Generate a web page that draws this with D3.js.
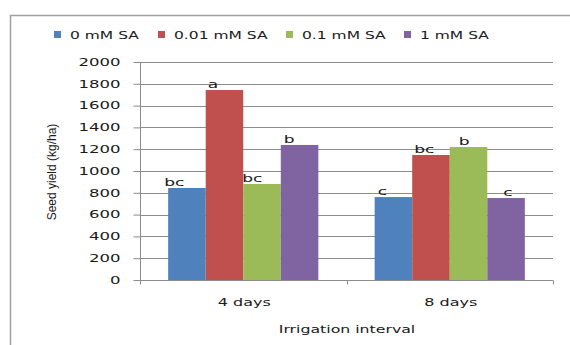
<!DOCTYPE html>
<html><head><meta charset="utf-8">
<script src="https://cdn.jsdelivr.net/npm/d3@7"></script>
<style>
html,body{margin:0;padding:0;background:#fff;}
svg{display:block;}
</style></head>
<body>
<svg id="chart" width="570" height="345"></svg>
<script>
const categories = ["4 days", "8 days"];
const seriesNames = ["0 mM SA", "0.01 mM SA", "0.1 mM SA", "1 mM SA"];
const values0 = [844, 761];
const values001 = [1743, 1147];
const values01 = [881, 1220];
const values1 = [1239, 752];
const letters0 = ["bc", "c"];
const letters001 = ["a", "bc"];
const letters01 = ["bc", "b"];
const letters1 = ["b", "c"];
const yTicks = [0, 200, 400, 600, 800, 1000, 1200, 1400, 1600, 1800, 2000];
const colors = ["#4F81BD", "#C0504D", "#9BBB59", "#8064A2"];

const allValues = [values0, values001, values01, values1];
const allLetters = [letters0, letters001, letters01, letters1];

(function(){
const svg = d3.select("#chart");
const font = "DejaVu Sans, Verdana, sans-serif";
const txt = "#1a1a1a";
const SX = 1.58;

function addText(x, y, str, size, anchor, sx) {
  return svg.append("text")
    .attr("transform", `translate(${x},${y}) scale(${sx || SX},1)`)
    .attr("text-anchor", anchor || "start")
    .attr("font-family", font).attr("font-size", size).attr("fill", txt)
    .text(str);
}

// outer frame
svg.append("path").attr("d", "M10.5,345 V15.5 H570").attr("fill","none").attr("stroke","#a0a0a0").attr("stroke-width",1.5);

const pL = 140, pR = 553, pT = 62, pB = 280;
const x0 = d3.scaleBand().domain(categories).range([pL, pR]).paddingInner(0).paddingOuter(0);
const x1 = d3.scaleBand().domain(seriesNames).range([0, x0.bandwidth()]).paddingInner(0).paddingOuter(0.75);
const y = d3.scaleLinear().domain([0, 2000]).range([pB, pT]);

// gridlines
svg.append("g").selectAll("line").data(yTicks.filter(d=>d>0)).join("line")
  .attr("x1", pL).attr("x2", pR)
  .attr("y1", d=>Math.round(y(d))+0.5).attr("y2", d=>Math.round(y(d))+0.5)
  .attr("stroke","#8c8c8c").attr("stroke-width",1);

// y axis
const yAxis = svg.append("g").attr("transform", `translate(${pL+0.5},0)`)
  .call(d3.axisLeft(y).tickValues(yTicks).tickSize(7).tickPadding(13).tickFormat(d3.format("d")));
yAxis.select(".domain").attr("stroke","#8c8c8c").attr("d", `M0,${pT}V${pB+4}`);
yAxis.selectAll(".tick line").attr("stroke","#8c8c8c");
const ySX = 1.65;
yAxis.selectAll(".tick text")
  .attr("font-family", font).attr("font-size", 10).attr("fill", txt)
  .attr("x", -20 / ySX)
  .attr("transform", `scale(${ySX},1)`);

// bars
categories.forEach((cat, ci) => {
  const g = svg.append("g").attr("transform", `translate(${x0(cat)},0)`);
  seriesNames.forEach((s, si) => {
    g.append("rect")
      .attr("x", x1(s)).attr("width", x1.bandwidth())
      .attr("y", y(allValues[si][ci])).attr("height", y(0) - y(allValues[si][ci]))
      .attr("fill", colors[si]);
  });
});

// x axis
const xAxis = svg.append("g").attr("transform", `translate(0,${pB+0.5})`);
xAxis.append("line").attr("x1", pL).attr("x2", pR).attr("stroke","#8c8c8c");
[pL, x0(categories[1]), pR].forEach(px => {
  xAxis.append("line").attr("x1", Math.round(px)+0.5).attr("x2", Math.round(px)+0.5).attr("y1",0).attr("y2",4).attr("stroke","#8c8c8c");
});
categories.forEach(cat => {
  addText(x0(cat)+x0.bandwidth()/2 + 1, 306, cat, 10, "middle", 1.6);
});

// letters
const letterShift = [[-4, 3], [2, 2], [-1, 9], [3, 16]];
categories.forEach((cat, ci) => {
  seriesNames.forEach((s, si) => {
    addText(x0(cat) + x1(s) + letterShift[si][ci], y(allValues[si][ci]) - 2, allLetters[si][ci], 11, "start", 1.55);
  });
});

// axis titles
addText(347, 333, "Irrigation interval", 10.5, "middle", 1.5);
svg.append("text").attr("transform", "translate(56,172) rotate(-90)").attr("text-anchor","middle")
  .attr("font-family", "Liberation Sans Narrow, Arial Narrow, sans-serif").attr("font-size", 12).attr("fill",txt).text("Seed yield (kg/ha)");

// legend
const legendX = [54, 158, 286, 404];
seriesNames.forEach((s, si) => {
  svg.append("rect").attr("x", legendX[si]).attr("y", 31).attr("width", 7).attr("height", 7).attr("fill", colors[si]);
  addText(legendX[si] + 16, 39, s, 10, "start", 1.55);
});
})();
</script>
</body></html>
